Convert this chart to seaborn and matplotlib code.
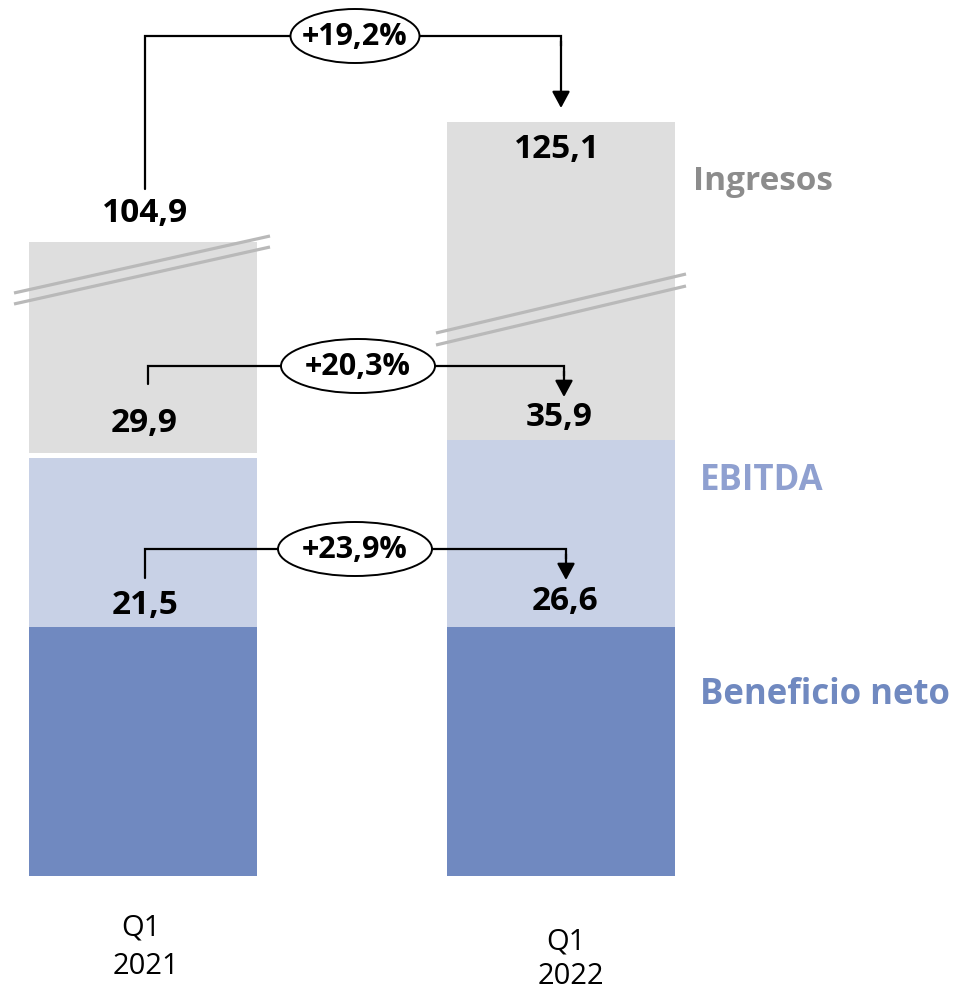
import matplotlib
matplotlib.use("Agg")
import matplotlib.pyplot as plt
from matplotlib.patches import Ellipse
import seaborn as sns

# data
periods = ["Q1 2021", "Q1 2022"]
ingresos = [104.9, 125.1]
ebitda = [29.9, 35.9]
beneficio = [21.5, 26.6]
growth_labels = ["+19,2%", "+20,3%", "+23,9%"]

# chart is not to scale: drawn bar heights (schematic units)
ingresos_drawn = [634, 754]
gap_drawn = [423, 436]
ebitda_drawn = [418, 436]
beneficio_drawn = [249, 249]

series_names = ["Ingresos", "EBITDA", "Beneficio neto"]
c_ing = "#dedede"
c_ebitda = "#c8d1e6"
c_benef = "#7089c0"

sns.set_theme(style="white")
plt.rcParams["font.family"] = ["Open Sans", "DejaVu Sans"]

W, H = 956, 990
fig = plt.figure(figsize=(W / 100, H / 100), dpi=100)

# bars axis (categorical x, schematic y with baseline at pixel row 876)
ax = fig.add_axes([0, 0, 1, 1])
step = 418
x0 = 143
ax.set_ylim(-(H - 876), 876)
bw = 228 / step
for vals, col in [(ingresos_drawn, c_ing), (gap_drawn, "white"),
                  (ebitda_drawn, c_ebitda), (beneficio_drawn, c_benef)]:
    sns.barplot(x=periods, y=vals, color=col, saturation=1, width=bw,
                linewidth=0, ax=ax)
ax.set_xlim(-x0 / step, (W - x0) / step)
ax.axis("off")

# overlay axis in pixel coordinates for the annotations
ov = fig.add_axes([0, 0, 1, 1], facecolor="none")
ov.set_xlim(0, W)
ov.set_ylim(H, 0)
ov.axis("off")


def fmt(v):
    return f"{v:.1f}".replace(".", ",")


# break marks
brk = "#b9b9b9"
for (xa, ya, xb, yb) in [(14, 293, 270, 236), (14, 304, 270, 247),
                         (436, 333, 686, 274), (436, 345, 686, 286)]:
    ov.plot([xa, xb], [ya, yb], color=brk, lw=2.3, solid_capstyle="butt")

# value labels
lbl_pos = [
    [(145, 214), (557, 150)],
    [(144, 424), (559, 418)],
    [(145, 605), (565, 601)],
]
for series, pos in zip([ingresos, ebitda, beneficio], lbl_pos):
    for v, (px, py) in zip(series, pos):
        ov.text(px, py, fmt(v), ha="center", va="center", fontsize=24,
                fontweight="bold", color="black")

# growth connectors
paths = [
    ((145, 189), 36, (561, 108), (355, 36), 129),
    ((148, 384), 366, (564, 397), (358, 366), 154),
    ((145, 578), 549, (566, 580), (355, 549), 154),
]
for lab, (start, ytop, tip, cen, ew) in zip(growth_labels, paths):
    ov.plot([start[0], start[0], tip[0], tip[0]],
            [start[1], ytop, ytop, ytop + 10], color="black", lw=1.6,
            solid_joinstyle="miter")
    ov.annotate("", xy=tip, xytext=(tip[0], ytop + 5),
                arrowprops=dict(arrowstyle="-|>,head_length=0.5,head_width=0.27",
                                mutation_scale=20, lw=1.6, color="black",
                                shrinkA=0, shrinkB=0))
    ov.add_patch(Ellipse(cen, ew, 54, facecolor="white", edgecolor="black",
                         lw=1.4, zorder=3))
    ov.text(cen[0], cen[1] + 1, lab, ha="center", va="center", fontsize=22,
            fontweight="bold", color="black", zorder=4)

# series names
ov.text(693, 182, series_names[0], ha="left", va="center", fontsize=24,
        fontweight="bold", color="#8c8c8c")
ov.text(700, 481, series_names[1], ha="left", va="center", fontsize=25,
        fontweight="bold", color="#8fa0d0")
ov.text(700, 695, series_names[2], ha="left", va="center", fontsize=25,
        fontweight="bold", color=c_benef)

# period labels
cat_pos = [((141, 928), (146, 966)), ((566, 942), (571, 977))]
for p, (q_xy, y_xy) in zip(periods, cat_pos):
    q, yr = p.split(" ")
    ov.text(*q_xy, q, ha="center", va="center", fontsize=21, color="black")
    ov.text(*y_xy, yr, ha="center", va="center", fontsize=21, color="black")

fig.savefig("out.png", dpi=100)
